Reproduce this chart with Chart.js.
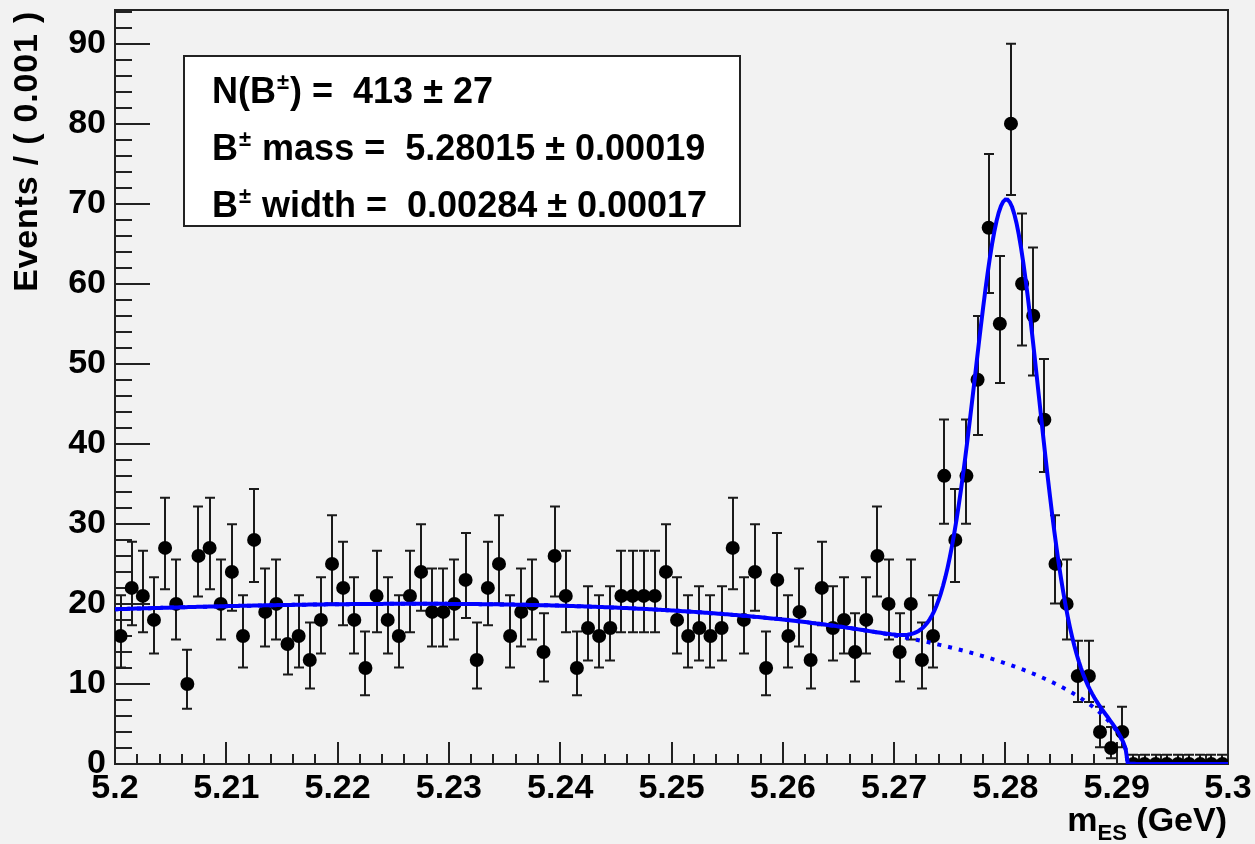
<!DOCTYPE html>
<html>
<head>
<meta charset="utf-8">
<title>B± mES fit</title>
<script src="https://cdn.jsdelivr.net/npm/chart.js@4.4.1/dist/chart.umd.min.js"></script>
<style>
  html, body { margin: 0; padding: 0; background: #f2f2f2; }
  #wrap { width: 1255px; height: 844px; }
  canvas { display: block; }
</style>
</head>
<body>
<div id="wrap"><canvas id="c" width="1255" height="844"></canvas></div>
<script>
// Binning of the m_ES histogram
const xMin = 5.2;
const xMax = 5.3;
const binWidth = 0.001;

// Events per bin (100 bins of 1 MeV)
const counts = [
  16, 22, 21, 18, 27, 20, 10, 26, 27, 20,
  24, 16, 28, 19, 20, 15, 16, 13, 18, 25,
  22, 18, 12, 21, 18, 16, 21, 24, 19, 19,
  20, 23, 13, 22, 25, 16, 19, 20, 14, 26,
  21, 12, 17, 16, 17, 21, 21, 21, 21, 24,
  18, 16, 17, 16, 17, 27, 18, 24, 12, 23,
  16, 19, 13, 22, 17, 18, 14, 18, 26, 20,
  14, 20, 13, 16, 36, 28, 36, 48, 67, 55,
  80, 60, 56, 43, 25, 20, 11, 11, 4, 2,
  4, 0, 0, 0, 0, 0, 0, 0, 0, 0
];

// Axis ticks
const yMax = 94.2;
const yTickValues = [0, 10, 20, 30, 40, 50, 60, 70, 80, 90];
const yTickLabels = ['0', '10', '20', '30', '40', '50', '60', '70', '80', '90'];
const xTickValues = [5.2, 5.21, 5.22, 5.23, 5.24, 5.25, 5.26, 5.27, 5.28, 5.29, 5.3];
const xTickLabels = ['5.2', '5.21', '5.22', '5.23', '5.24', '5.25', '5.26', '5.27', '5.28', '5.29', '5.3'];

// Fit result: Gaussian signal + ARGUS background
const nSig = 413, nSigErr = 27;
const sigMass = 5.28015, sigMassErr = 0.00019;
const sigWidth = 0.00284, sigWidthErr = 0.00017;
const argusEndpoint = 5.291;
const argusShape = -20.3;

// ---------------------------------------------------------------------
const FONT = '"Liberation Sans", Arial, Helvetica, sans-serif';

function argus(m) {
  const r = m / argusEndpoint;
  const u = 1 - r * r;
  if (u <= 0) return 0;
  return m * Math.sqrt(u) * Math.exp(argusShape * u);
}
function gauss(m) {
  const d = (m - sigMass) / sigWidth;
  return Math.exp(-0.5 * d * d);
}
function integrate(f, a, b, n) {
  const h = (b - a) / n;
  let s = f(a) + f(b);
  for (let i = 1; i < n; i++) s += f(a + i * h) * (i % 2 ? 4 : 2);
  return s * h / 3;
}

const nTotal = counts.reduce((a, b) => a + b, 0);
const nBkg = nTotal - nSig;
const argusNorm = integrate(argus, xMin, xMax, 4000);
const gaussNorm = integrate(gauss, xMin, xMax, 4000);

function bkgPerBin(m) { return nBkg * binWidth * argus(m) / argusNorm; }
function sigPerBin(m) { return nSig * binWidth * gauss(m) / gaussNorm; }

// Central 68% Poisson interval on each bin count
function poissonInterval(n) {
  if (n === 0) return [0, 1.148];
  const lo = n * Math.pow(1 - 1 / (9 * n) - 1 / (3 * Math.sqrt(n)), 3);
  const n1 = n + 1;
  const hi = n1 * Math.pow(1 - 1 / (9 * n1) + 1 / (3 * Math.sqrt(n1)), 3);
  return [n - lo, hi - n];
}

const dataPoints = counts.map((n, i) => {
  const [lo, hi] = poissonInterval(n);
  return { x: xMin + (i + 0.5) * binWidth, y: n, lo: lo, hi: hi };
});

const curveSamples = 500;
const bkgCurve = [];
const totalCurve = [];
for (let k = 0; k <= curveSamples; k++) {
  const m = xMin + (xMax - xMin) * k / curveSamples;
  const b = bkgPerBin(m);
  bkgCurve.push({ x: m, y: b });
  totalCurve.push({ x: m, y: b + sigPerBin(m) });
}

// ---------------------------------------------------------------------
const canvasBg = {
  id: 'canvasBg',
  beforeDraw(chart) {
    const ctx = chart.ctx;
    ctx.save();
    ctx.fillStyle = '#f2f2f2';
    ctx.fillRect(0, 0, chart.width, chart.height);
    ctx.restore();
  }
};

// Frame with inner tick marks
const frameTicks = {
  id: 'frameTicks',
  beforeDatasetsDraw(chart) {
    const { ctx, chartArea: a, scales } = chart;
    const xs = scales.x, ys = scales.y;
    ctx.save();
    ctx.strokeStyle = '#222';
    ctx.lineWidth = 2;
    ctx.beginPath();
    // y ticks: major every 10, minor every 2
    for (let v = 0; v <= yMax + 1e-9; v += 2) {
      const y = Math.round(ys.getPixelForValue(v));
      const major = Math.abs(v % 10) < 1e-9;
      const len = major ? 35 : 17;
      ctx.moveTo(a.left, y);
      ctx.lineTo(a.left + len, y);
    }
    // x ticks: major every 0.01, minor every 0.002
    for (let k = 0; k <= 50; k++) {
      const v = xMin + k * 0.002;
      const x = Math.round(xs.getPixelForValue(v));
      const len = (k % 5 === 0) ? 22 : 10;
      ctx.moveTo(x, a.bottom);
      ctx.lineTo(x, a.bottom - len);
    }
    ctx.stroke();
    ctx.strokeRect(a.left, a.top, a.right - a.left, a.bottom - a.top);
    ctx.restore();
  }
};

// Vertical Poisson error bars under the markers
const errorBars = {
  id: 'errorBars',
  beforeDatasetsDraw(chart) {
    const { ctx, chartArea: a, scales } = chart;
    const xs = scales.x, ys = scales.y;
    ctx.save();
    ctx.beginPath();
    ctx.rect(a.left, a.top, a.right - a.left, a.bottom - a.top);
    ctx.clip();
    ctx.strokeStyle = '#1a1a1a';
    ctx.lineWidth = 2;
    ctx.beginPath();
    dataPoints.forEach(p => {
      const x = Math.round(xs.getPixelForValue(p.x));
      const yLo = ys.getPixelForValue(p.y - p.lo);
      const yHi = ys.getPixelForValue(p.y + p.hi);
      ctx.moveTo(x, yLo);
      ctx.lineTo(x, yHi);
      ctx.moveTo(x - 5, yHi);
      ctx.lineTo(x + 5, yHi);
      if (p.lo > 0) {
        ctx.moveTo(x - 5, yLo);
        ctx.lineTo(x + 5, yLo);
      }
    });
    ctx.stroke();
    ctx.restore();
  }
};

function drawParts(ctx, parts, x, y, size) {
  let cx = x;
  parts.forEach(p => {
    if (p.sup) {
      ctx.font = 'bold ' + Math.round(size * 0.62) + 'px ' + FONT;
      ctx.fillText(p.t, cx + 1, y - size * 0.38);
      cx += ctx.measureText(p.t).width + 2;
    } else {
      ctx.font = 'bold ' + size + 'px ' + FONT;
      ctx.fillText(p.t, cx, y);
      cx += ctx.measureText(p.t).width;
    }
  });
}

// Fit-result box and axis titles
const annotations = {
  id: 'annotations',
  afterDraw(chart) {
    const ctx = chart.ctx;
    ctx.save();
    // result box
    ctx.fillStyle = '#ffffff';
    ctx.fillRect(184, 56, 556, 170);
    ctx.strokeStyle = '#222';
    ctx.lineWidth = 2;
    ctx.strokeRect(184, 56, 556, 170);
    ctx.fillStyle = '#000';
    ctx.textBaseline = 'alphabetic';
    ctx.textAlign = 'left';
    const size = 36;
    drawParts(ctx, [{ t: 'N(B' }, { t: '±', sup: true }, { t: ') =  ' + nSig + ' ± ' + nSigErr }], 212, 103, size);
    drawParts(ctx, [{ t: 'B' }, { t: '±', sup: true }, { t: ' mass =  ' + sigMass.toFixed(5) + ' ± ' + sigMassErr.toFixed(5) }], 212, 160, size);
    drawParts(ctx, [{ t: 'B' }, { t: '±', sup: true }, { t: ' width =  ' + sigWidth.toFixed(5) + ' ± ' + sigWidthErr.toFixed(5) }], 212, 217, size);

    // y title
    ctx.save();
    ctx.translate(37, 11);
    ctx.rotate(-Math.PI / 2);
    ctx.textAlign = 'right';
    ctx.font = 'bold 34px ' + FONT;
    ctx.letterSpacing = '0.8px';
    ctx.fillText('Events / ( 0.001 )', 0, 0);
    ctx.restore();

    // x title: m_ES (GeV), right aligned
    const right = 1227, base = 831;
    ctx.font = 'bold 34px ' + FONT;
    const wGeV = ctx.measureText(' (GeV)').width;
    ctx.font = 'bold 22px ' + FONT;
    const wES = ctx.measureText('ES').width;
    ctx.font = 'bold 34px ' + FONT;
    const wM = ctx.measureText('m').width;
    let x0 = right - wGeV - wES - wM;
    ctx.fillText('m', x0, base);
    ctx.font = 'bold 22px ' + FONT;
    ctx.fillText('ES', x0 + wM, base + 9);
    ctx.font = 'bold 34px ' + FONT;
    ctx.fillText(' (GeV)', x0 + wM + wES, base);
    ctx.restore();
  }
};

new Chart(document.getElementById('c'), {
  type: 'scatter',
  data: {
    datasets: [
      {
        label: 'data',
        data: dataPoints,
        pointRadius: 7,
        pointHoverRadius: 7,
        pointBackgroundColor: '#000',
        pointBorderColor: '#000',
        pointBorderWidth: 0,
        showLine: false,
        clip: 0,
        order: 3
      },
      {
        label: 'background',
        data: bkgCurve,
        showLine: true,
        borderColor: '#0000ff',
        borderWidth: 4,
        borderDash: [4, 7],
        pointRadius: 0,
        tension: 0,
        order: 2
      },
      {
        label: 'total',
        data: totalCurve,
        showLine: true,
        borderColor: '#0000ff',
        borderWidth: 4,
        pointRadius: 0,
        tension: 0,
        order: 1
      }
    ]
  },
  options: {
    responsive: false,
    devicePixelRatio: 1,
    animation: false,
    events: [],
    layout: { padding: { top: 10, right: 27, left: 0, bottom: 0 } },
    plugins: { legend: { display: false }, tooltip: { enabled: false } },
    scales: {
      x: {
        type: 'linear',
        min: xMin,
        max: xMax,
        grid: { display: false, drawTicks: false, tickLength: 0 },
        border: { display: false },
        afterBuildTicks(s) { s.ticks = xTickValues.map(v => ({ value: v })); },
        afterFit(s) { s.height = 80; s.paddingLeft = 0; s.paddingRight = 0; },
        ticks: {
          autoSkip: false,
          maxRotation: 0,
          minRotation: 0,
          padding: 4,
          color: '#000',
          font: { family: FONT, size: 34, weight: 'bold' },
          callback: (v, i) => xTickLabels[i]
        }
      },
      y: {
        type: 'linear',
        min: 0,
        max: yMax,
        grid: { display: false, drawTicks: false, tickLength: 0 },
        border: { display: false },
        afterBuildTicks(s) { s.ticks = yTickValues.map(v => ({ value: v })); },
        afterFit(s) { s.width = 115; s.paddingTop = 0; s.paddingBottom = 0; },
        ticks: {
          autoSkip: false,
          padding: 9,
          color: '#000',
          font: { family: FONT, size: 34, weight: 'bold' },
          callback: (v, i) => yTickLabels[i]
        }
      }
    }
  },
  plugins: [canvasBg, frameTicks, errorBars, annotations]
});
</script>
</body>
</html>
